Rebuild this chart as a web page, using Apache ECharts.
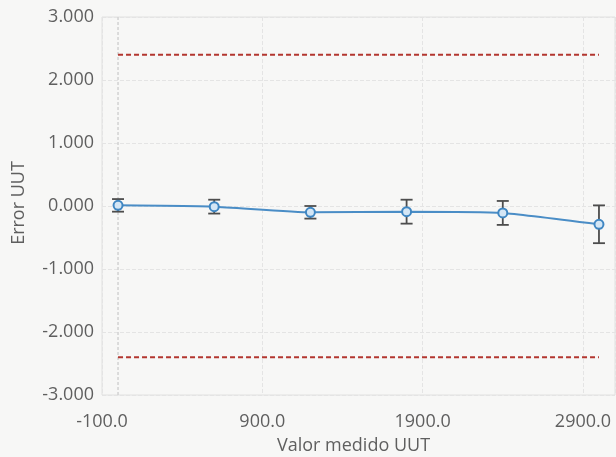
<!DOCTYPE html>
<html><head><meta charset="utf-8">
<script src="https://cdn.jsdelivr.net/npm/echarts@6/dist/echarts.min.js"></script>
<style>html,body{margin:0;padding:0;background:#f7f7f6;}#c{width:616px;height:457px;}</style>
</head><body><div id="c"></div>
<script>
const xValues = [0, 600, 1200, 1800, 2400, 3000];
const errorValues = [0.01, -0.01, -0.1, -0.09, -0.11, -0.29];
const uncertainty = [0.1, 0.11, 0.1, 0.19, 0.19, 0.3];
const limitX = [0, 3000];
const upperLimit = [2.4, 2.4];
const lowerLimit = [-2.4, -2.4];
const xTickLabels = ['-100.0', '900.0', '1900.0', '2900.0'];

const chart = echarts.init(document.getElementById('c'));
const txt = '#5f5f5f';
const pts = xValues.map((x, i) => [x, errorValues[i]]);
const errData = xValues.map((x, i) => [x, errorValues[i] - uncertainty[i], errorValues[i] + uncertainty[i]]);
chart.setOption({
  backgroundColor: '#f7f7f6',
  animation: false,
  grid: {left: 102, right: 1, top: 17, bottom: 62, show: true, borderColor: '#e0e0e0', borderWidth: 1,
    backgroundColor: 'transparent', containLabel: false, outerBoundsMode: 'none'},
  xAxis: {
    type: 'value', min: -100, max: 3100, interval: 1000,
    name: 'Valor medido UUT', nameLocation: 'middle', nameGap: 42,
    nameTextStyle: {color: txt, fontSize: 18, fontFamily: 'Open Sans', padding: [0, 10, 0, 0]},
    axisLine: {show: false}, axisTick: {show: false},
    axisLabel: {color: txt, fontSize: 18, fontFamily: 'Open Sans', margin: 18, showMaxLabel: false,
      formatter: v => { const i = Math.round((v + 100) / 1000); return xTickLabels[i] !== undefined ? xTickLabels[i] : ''; }},
    splitLine: {show: true, lineStyle: {color: '#e4e4e4', type: 'dashed', width: 1}}
  },
  yAxis: {
    type: 'value', min: -3, max: 3, interval: 1,
    name: 'Error UUT', nameLocation: 'middle', nameGap: 74,
    nameTextStyle: {color: txt, fontSize: 18, fontFamily: 'Open Sans', padding: [0, 0, 0, 6]},
    axisLine: {show: false}, axisTick: {show: false},
    axisLabel: {color: txt, fontSize: 18, fontFamily: 'Open Sans', margin: 8, formatter: v => v.toFixed(3)},
    splitLine: {show: true, lineStyle: {color: '#e4e4e4', type: 'dashed', width: 1}}
  },
  series: [
    {type: 'line', data: [[0, -3], [0, 3]], symbol: 'none', silent: true,
      lineStyle: {color: '#d2d2d2', width: 1.5, type: [3, 2]}, z: 1},
    {type: 'line', data: limitX.map((x, i) => [x, upperLimit[i]]), symbol: 'none',
      lineStyle: {color: '#b3362f', width: 2, type: [5, 3]}},
    {type: 'line', data: limitX.map((x, i) => [x, lowerLimit[i]]), symbol: 'none',
      lineStyle: {color: '#b3362f', width: 2, type: [5, 3]}},
    {type: 'custom', data: errData, z: 3,
      renderItem: (params, api) => {
        const x = api.value(0);
        const lo = api.coord([x, api.value(1)]);
        const hi = api.coord([x, api.value(2)]);
        const w = 6;
        const st = {stroke: '#4d4d4d', lineWidth: 1.8};
        return {type: 'group', children: [
          {type: 'line', shape: {x1: lo[0], y1: lo[1], x2: hi[0], y2: hi[1]}, style: st},
          {type: 'line', shape: {x1: lo[0] - w, y1: lo[1], x2: lo[0] + w, y2: lo[1]}, style: st},
          {type: 'line', shape: {x1: hi[0] - w, y1: hi[1], x2: hi[0] + w, y2: hi[1]}, style: st}
        ]};
      }},
    {type: 'line', data: pts, smooth: 0.15, symbol: 'circle', symbolSize: 9, z: 4,
      lineStyle: {color: '#4a8dc6', width: 2},
      itemStyle: {color: '#d4e6f5', borderColor: '#3f86c2', borderWidth: 2}}
  ]
});
</script></body></html>
